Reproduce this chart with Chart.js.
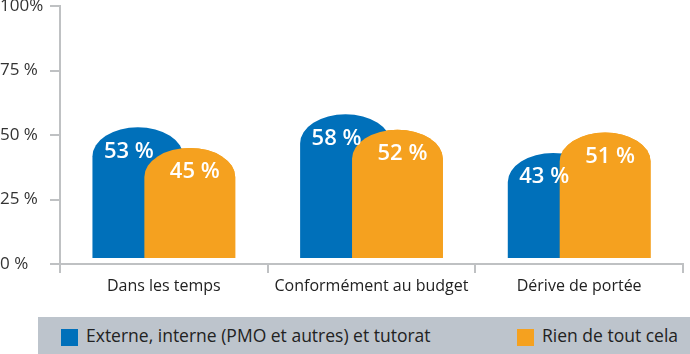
<!DOCTYPE html>
<html lang="fr">
<head>
<meta charset="UTF-8">
<title>Suivi des projets</title>
<script src="https://cdn.jsdelivr.net/npm/chart.js@4/dist/chart.umd.min.js"></script>
<style>
  body { margin: 0; background: #fff; font-family: 'Open Sans', sans-serif; }
  #wrap { position: absolute; left: 0; top: 0; width: 690px; height: 310px; }
  #legend { position: absolute; left: 38px; top: 317px; width: 652px; height: 37px; background: #bdc4cc; }
  .item { position: absolute; top: 0; height: 37px; line-height: 37px; font-size: 17.5px; color: #222; white-space: nowrap; }
  .item span { position: absolute; left: 0; top: 12px; width: 17px; height: 17px; }
  .item b { font-weight: normal; margin-left: 25px; }
</style>
</head>
<body>
<div id="wrap"><canvas id="chart"></canvas></div>
<div id="legend"></div>
<script>
// data
const categories = ['Dans les temps', 'Conformément au budget', 'Dérive de portée'];
const seriesNames = ['Externe, interne (PMO et autres) et tutorat', 'Rien de tout cela'];
const externe = [53, 58, 43];
const rien = [45, 52, 51];

const blue = '#0070ba';
const orange = '#f5a11f';
const grey = '#bfc1c3';

// dome-shaped bars (elliptical top)
Chart.BarElement.prototype.draw = function (ctx) {
  const {x, y, base, width} = this.getProps(['x', 'y', 'base', 'width']);
  const rx = width / 2;
  const ry = Math.min(29, base - y);
  ctx.save();
  ctx.fillStyle = this.options.backgroundColor;
  ctx.beginPath();
  ctx.moveTo(x - rx, base);
  ctx.lineTo(x - rx, y + ry);
  ctx.ellipse(x, y + ry, rx, ry, 0, Math.PI, 2 * Math.PI);
  ctx.lineTo(x + rx, base);
  ctx.closePath();
  ctx.fill();
  ctx.restore();
};

// orange on top of blue, then the value labels
const labelShift = [-9, 5];
const topLayer = {
  id: 'topLayer',
  afterDatasetsDraw(chart) {
    const ctx = chart.ctx;
    chart.getDatasetMeta(1).data.forEach(b => b.draw(ctx));
    ctx.save();
    ctx.fillStyle = '#fff';
    ctx.font = "600 22px 'Open Sans'";
    ctx.textAlign = 'center';
    ctx.textBaseline = 'middle';
    chart.data.datasets.forEach((ds, i) => {
      chart.getDatasetMeta(i).data.forEach((b, j) => {
        ctx.fillText(ds.data[j] + ' %', b.x + labelShift[i], b.y + 24);
      });
    });
    ctx.restore();
  }
};

Chart.defaults.font.family = "'Open Sans', sans-serif";
Chart.defaults.color = '#333';

new Chart(document.getElementById('chart'), {
  type: 'bar',
  data: {
    labels: categories,
    datasets: [
      { label: seriesNames[0], data: externe, backgroundColor: blue, base: 2.3 },
      { label: seriesNames[1], data: rien, backgroundColor: orange, base: 2.3 }
    ]
  },
  options: {
    responsive: true,
    maintainAspectRatio: false,
    animation: false,
    categoryPercentage: 0.5,
    barPercentage: 1.75,
    layout: { padding: { top: 6, right: 7, left: 0, bottom: 0 } },
    plugins: { legend: { display: false }, tooltip: { enabled: false } },
    scales: {
      x: {
        afterFit: s => { s.height = 46; s.paddingLeft = 0; s.paddingRight = 0; },
        grid: { drawOnChartArea: false, offset: true, tickLength: 9, color: grey, lineWidth: 2 },
        border: { color: grey, width: 2 },
        ticks: { font: { size: 16 }, color: '#222', padding: 4 }
      },
      y: {
        min: 0,
        max: 100,
        afterFit: s => { s.width = 60; s.paddingTop = 0; s.paddingBottom = 0; },
        grid: { drawOnChartArea: false, tickLength: 10, color: grey, lineWidth: 2 },
        border: { color: grey, width: 2 },
        ticks: {
          stepSize: 25,
          padding: 8,
          crossAlign: 'far',
          font: { size: 17 },
          color: '#333',
          callback: v => v === 100 ? '100%' : v + ' %'
        }
      }
    }
  },
  plugins: [topLayer]
});

// legend
const legend = document.getElementById('legend');
const legendLeft = [23, 479];
[blue, orange].forEach((c, i) => {
  const it = document.createElement('div');
  it.className = 'item';
  it.style.left = legendLeft[i] + 'px';
  it.innerHTML = '<span style="background:' + c + '"></span><b>' + seriesNames[i] + '</b>';
  legend.appendChild(it);
});
</script>
</body>
</html>
